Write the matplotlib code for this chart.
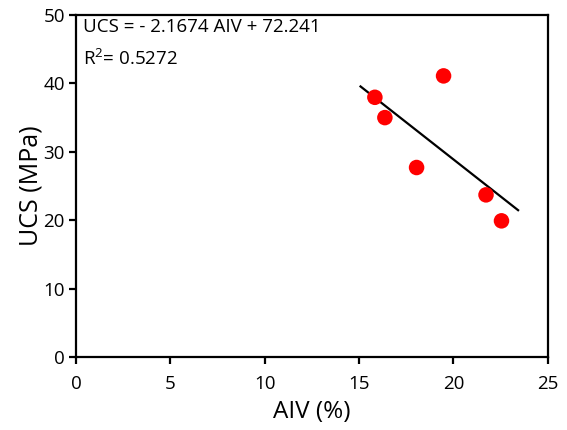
import numpy as np
import matplotlib.pyplot as plt

plt.rcParams['font.family'] = ['Open Sans', 'DejaVu Sans']
plt.rcParams['mathtext.fontset'] = 'custom'
plt.rcParams['mathtext.rm'] = 'Open Sans'

aiv = [15.84, 16.37, 19.48, 18.05, 21.73, 22.55]
ucs = [37.97, 35.0, 41.1, 27.7, 23.7, 19.9]

slope = -2.1674
intercept = 72.241
fit_x = np.array([15.08, 23.43])

fig = plt.figure(figsize=(5.67, 4.3), dpi=100)
ax = fig.add_axes([0.134, 0.170, 0.832, 0.795])

ax.plot(fit_x, slope * fit_x + intercept, color='black', lw=1.6, zorder=2)
ax.scatter(aiv, ucs, s=125, color='red', edgecolors='none', zorder=3)

ax.set_xlim(0, 25)
ax.set_ylim(0, 50)
ax.set_xticks([0, 5, 10, 15, 20, 25])
ax.set_yticks([0, 10, 20, 30, 40, 50])
for s in ax.spines.values():
    s.set_linewidth(1.6)
ax.tick_params(direction='out', width=1.6, length=5, labelsize=13.5)
ax.tick_params(axis='x', pad=8)
ax.tick_params(axis='y', pad=3)

ax.set_xlabel('AIV (%)', fontsize=17.5, labelpad=5)
ax.set_ylabel('UCS (MPa)', fontsize=18, labelpad=0)

ax.text(0.35, 47.5, 'UCS = - 2.1674 AIV + 72.241', fontsize=13.5, va='baseline')
ax.text(0.35, 42.7, r'R$^\mathrm{2}$= 0.5272', fontsize=13.5, va='baseline')

fig.savefig('out.png', dpi=100)
